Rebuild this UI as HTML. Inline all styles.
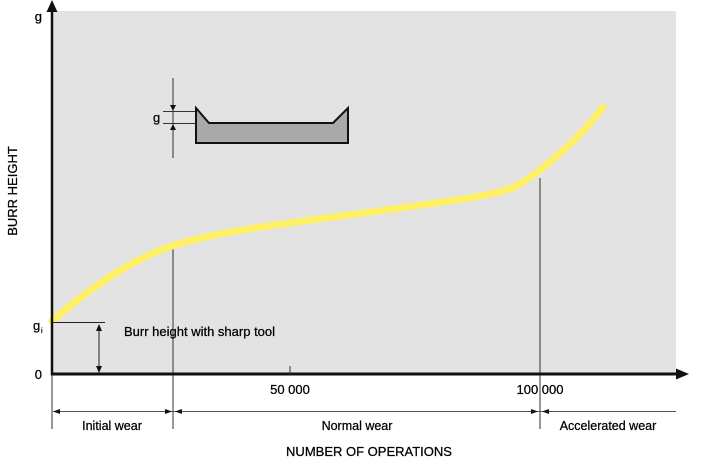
<!DOCTYPE html>
<html><head><meta charset="utf-8"><style>
html,body{margin:0;padding:0;background:#fff;}
svg{display:block;}
text{font-family:"Liberation Sans",sans-serif;fill:#000;stroke:#000;stroke-width:0.25;}
</style></head><body>
<svg width="720" height="461" viewBox="0 0 720 461" xmlns="http://www.w3.org/2000/svg">
<rect x="52" y="11" width="624" height="363" fill="#e3e3e3"/>
<!-- inset -->
<line x1="173" y1="78" x2="173" y2="158" stroke="#333" stroke-width="1"/>
<line x1="163" y1="111.5" x2="195" y2="111.5" stroke="#333" stroke-width="1"/>
<line x1="163" y1="123.5" x2="195" y2="123.5" stroke="#333" stroke-width="1"/>
<polygon points="170,105 176,105 173,111" fill="#111"/>
<polygon points="170,130 176,130 173,124" fill="#111"/>
<text x="153" y="122" font-size="13">g</text>
<polygon points="196,108 209,123 333,123 348,108 348,143 196,143" fill="#a9a9a9" stroke="#111" stroke-width="2" stroke-linejoin="miter"/>
<!-- verticals -->
<line x1="173" y1="248" x2="173" y2="429" stroke="#333" stroke-width="1"/>
<line x1="540" y1="178" x2="540" y2="429" stroke="#333" stroke-width="1"/>
<line x1="52" y1="374" x2="52" y2="429" stroke="#333" stroke-width="1"/>
<!-- curve -->
<path d="M52,321 C90,288 130,260 172,246 C220,230 300,222 400,208 C450,201 490,196 512,188 C530,180 575,145 603,107" fill="none" stroke="#fff066" stroke-width="7" stroke-linecap="round"/>
<!-- burr annotation -->
<line x1="52" y1="322.5" x2="105" y2="322.5" stroke="#222" stroke-width="1"/>
<line x1="99" y1="325" x2="99" y2="372" stroke="#222" stroke-width="1"/>
<polygon points="96,331 102,331 99,324" fill="#111"/>
<polygon points="96,366 102,366 99,373" fill="#111"/>
<text x="124" y="336" font-size="13">Burr height with sharp tool</text>
<!-- axes -->
<line x1="52" y1="8" x2="52" y2="375.5" stroke="#111" stroke-width="2.5"/>
<polygon points="52,0 46.5,12 57.5,12" fill="#111"/>
<line x1="51" y1="374" x2="680" y2="374" stroke="#111" stroke-width="3"/>
<polygon points="689,374 676,368.5 676,379.5" fill="#111"/>
<line x1="290" y1="366" x2="290" y2="374" stroke="#333" stroke-width="1"/>
<text x="290" y="394" font-size="13" text-anchor="middle">50 000</text>
<text x="540" y="394" font-size="13" text-anchor="middle">100 000</text>
<text x="42" y="21" font-size="13" text-anchor="end">g</text>
<text x="42" y="379" font-size="13" text-anchor="end">0</text>
<text x="33" y="330" font-size="13">g</text><text x="41" y="333" font-size="7">i</text>
<text transform="translate(17,191) rotate(-90)" font-size="13" text-anchor="middle">BURR HEIGHT</text>
<!-- wear arrows -->
<line x1="53" y1="411.5" x2="676" y2="411.5" stroke="#555" stroke-width="1"/>
<polygon points="53,411.5 60,409 60,414" fill="#111"/>
<polygon points="172,411.5 165,409 165,414" fill="#111"/>
<polygon points="175,411.5 182,409 182,414" fill="#111"/>
<polygon points="538,411.5 531,409 531,414" fill="#111"/>
<polygon points="542,411.5 549,409 549,414" fill="#111"/>
<text x="112" y="430" font-size="12.5" text-anchor="middle">Initial wear</text>
<text x="357" y="430" font-size="12.5" text-anchor="middle">Normal wear</text>
<text x="608" y="430" font-size="12.5" text-anchor="middle">Accelerated wear</text>
<text x="369" y="456" font-size="13" text-anchor="middle">NUMBER OF OPERATIONS</text>
</svg>
</body></html>
